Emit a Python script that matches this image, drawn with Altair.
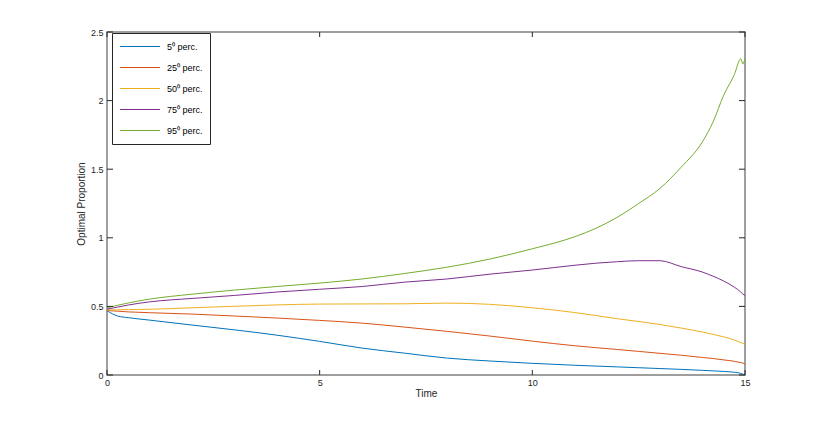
import altair as alt
import pandas as pd

time = [0, 0.25, 0.5, 1, 2, 3, 4, 5, 6, 7, 8, 9, 10, 11, 11.5, 12, 12.5, 13, 13.5, 14, 14.25, 14.5, 14.75, 14.9, 14.95, 15]
p5 = [0.468, 0.43, 0.418, 0.40, 0.364, 0.329, 0.29, 0.245, 0.196, 0.159, 0.123, 0.102, 0.085, 0.071, 0.065, 0.059, 0.053, 0.047, 0.041, 0.034, 0.03, 0.026, 0.02, 0.012, 0.006, 0.0]
p25 = [0.47, 0.465, 0.46, 0.454, 0.444, 0.43, 0.415, 0.398, 0.378, 0.349, 0.318, 0.284, 0.247, 0.213, 0.199, 0.186, 0.172, 0.158, 0.144, 0.128, 0.12, 0.11, 0.1, 0.09, 0.087, 0.08]
p50 = [0.474, 0.475, 0.477, 0.479, 0.49, 0.501, 0.511, 0.517, 0.518, 0.519, 0.524, 0.515, 0.49, 0.455, 0.433, 0.41, 0.39, 0.368, 0.342, 0.313, 0.296, 0.278, 0.255, 0.236, 0.23, 0.224]
p75 = [0.48, 0.495, 0.51, 0.533, 0.558, 0.58, 0.605, 0.625, 0.645, 0.677, 0.70, 0.735, 0.765, 0.80, 0.815, 0.826, 0.833, 0.833, 0.79, 0.75, 0.72, 0.685, 0.64, 0.605, 0.59, 0.58]
p95 = [0.49, 0.508, 0.525, 0.553, 0.589, 0.619, 0.645, 0.67, 0.70, 0.74, 0.786, 0.845, 0.92, 1.008, 1.07, 1.15, 1.25, 1.36, 1.515, 1.70, 1.845, 2.04, 2.19, 2.305, 2.267, 2.31]

labels = ["5\u2070 perc.", "25\u2070 perc.", "50\u2070 perc.", "75\u2070 perc.", "95\u2070 perc."]
colors = ["#0072BD", "#D95319", "#EDB120", "#7E2F8E", "#77AC30"]
xticks = [0, 5, 10, 15]
yticks = [0, 0.5, 1, 1.5, 2, 2.5]

rows = []
for lab, series in zip(labels, [p5, p25, p50, p75, p95]):
    for t, v in zip(time, series):
        rows.append({"Time": t, "value": v, "series": lab})
df = pd.DataFrame(rows)

W, H = 638, 343
FONT = "Liberation Sans"
AX = "#262626"

xscale = alt.Scale(domain=[0, 15], nice=False, zero=False)
yscale = alt.Scale(domain=[0, 2.5], nice=False, zero=False)

lines = alt.Chart(df).mark_line(strokeWidth=1, interpolate="monotone").encode(
    x=alt.X("Time:Q", scale=xscale,
            axis=alt.Axis(values=xticks, title="Time", ticks=False, domain=False, grid=False,
                          labelPadding=3, labelFontSize=9, labelColor=AX, labelFont=FONT,
                          titleFont=FONT, titleFontSize=10, titleFontWeight="normal", titleColor=AX,
                          titlePadding=1, format="d", labelFlush=False)),
    y=alt.Y("value:Q", scale=yscale,
            axis=alt.Axis(values=yticks, title="Optimal Proportion", ticks=False, domain=False, grid=False,
                          labelPadding=4, labelFontSize=9, labelColor=AX, labelFont=FONT,
                          titleFont=FONT, titleFontSize=10, titleFontWeight="normal", titleColor=AX,
                          titlePadding=4, labelFlush=False, format="~g")),
    color=alt.Color("series:N", scale=alt.Scale(domain=labels, range=colors),
                    legend=alt.Legend(title=None, orient="none", legendX=5, legendY=1,
                                      symbolType="stroke", symbolSize=1600, symbolStrokeWidth=1.2,
                                      labelFont=FONT, labelFontSize=9, labelColor="#000000",
                                      strokeColor=AX, fillColor="white", padding=7,
                                      rowPadding=8, clipHeight=13, labelOffset=6)),
)

xt = pd.DataFrame({"Time": xticks})
yt = pd.DataFrame({"value": yticks})

tick_x_bottom = alt.Chart(xt).mark_rule(color=AX, strokeWidth=1).encode(
    x=alt.X("Time:Q", scale=xscale), y=alt.value(H), y2=alt.value(H - 5))
tick_x_top = alt.Chart(xt).mark_rule(color=AX, strokeWidth=1).encode(
    x=alt.X("Time:Q", scale=xscale), y=alt.value(0), y2=alt.value(5))
tick_y_left = alt.Chart(yt).mark_rule(color=AX, strokeWidth=1).encode(
    y=alt.Y("value:Q", scale=yscale), x=alt.value(0), x2=alt.value(6))
tick_y_right = alt.Chart(yt).mark_rule(color=AX, strokeWidth=1).encode(
    y=alt.Y("value:Q", scale=yscale), x=alt.value(W), x2=alt.value(W - 6))

chart = alt.layer(lines, tick_x_bottom, tick_x_top, tick_y_left, tick_y_right).properties(
    width=W, height=H,
    autosize=alt.AutoSizeParams(type="none"),
    padding={"left": 99, "top": 24, "right": 70, "bottom": 46},
    background="white",
).configure_view(stroke="#7f7f7f", strokeWidth=1.5)

chart.save("out.html", embed_options={"renderer": "svg", "actions": False})
